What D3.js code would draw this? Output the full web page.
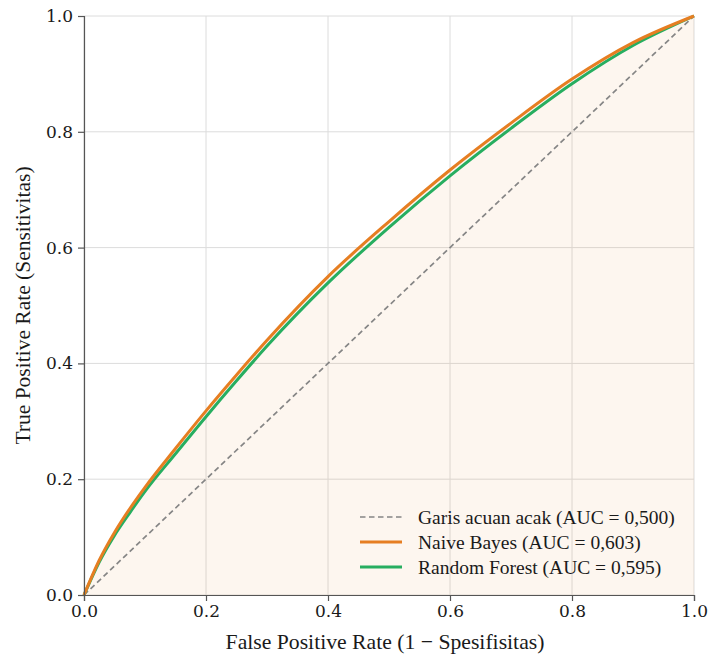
<!DOCTYPE html>
<html>
<head>
<meta charset="utf-8">
<script src="https://cdn.jsdelivr.net/npm/d3@7"></script>
<style>
  body { margin: 0; background: #fff; }
  svg { display: block; }
  .tick text { font-family: "DejaVu Serif", serif; font-size: 17px; fill: #1a1a1a; }
  .axis-label, .legend text { font-family: "Liberation Serif", serif; fill: #1a1a1a; }
</style>
</head>
<body>
<div id="chart"></div>
<script>
// ROC points
const fprPoints = [0, 0.025, 0.05, 0.075, 0.1, 0.15, 0.2, 0.25, 0.3, 0.4, 0.5, 0.6, 0.7, 0.8, 0.9, 1.0];
const naiveBayesTpr = [0, 0.06, 0.108, 0.149, 0.186, 0.253, 0.318, 0.38, 0.44, 0.55, 0.645, 0.734, 0.815, 0.891, 0.954, 1.0];
const randomForestTpr = [0, 0.057, 0.103, 0.142, 0.179, 0.244, 0.308, 0.37, 0.43, 0.539, 0.635, 0.724, 0.806, 0.883, 0.949, 1.0];
const diagonal = [0, 1];
const tickValues = [0, 0.2, 0.4, 0.6, 0.8, 1.0];
const legendLabels = [
  "Garis acuan acak (AUC = 0,500)",
  "Naive Bayes (AUC = 0,603)",
  "Random Forest (AUC = 0,595)",
];

const width = 709;
const height = 655;
const margin = { top: 16, right: 15, bottom: 60, left: 84 };

const svg = d3
  .select("#chart")
  .append("svg")
  .attr("width", width)
  .attr("height", height);

const x = d3.scaleLinear().domain([0, 1]).range([margin.left, width - margin.right]);
const y = d3.scaleLinear().domain([0, 1]).range([height - margin.bottom, margin.top]);

const nb = fprPoints.map((f, i) => [f, naiveBayesTpr[i]]);
const rf = fprPoints.map((f, i) => [f, randomForestTpr[i]]);

// grid
const grid = svg.append("g").attr("stroke", "#dcdcdc").attr("stroke-width", 1);
grid.selectAll(".gx").data(tickValues).join("line")
  .attr("x1", (d) => x(d)).attr("x2", (d) => x(d))
  .attr("y1", y(0)).attr("y2", y(1));
grid.selectAll(".gy").data(tickValues).join("line")
  .attr("x1", x(0)).attr("x2", x(1))
  .attr("y1", (d) => y(d)).attr("y2", (d) => y(d));

// fill under Naive Bayes
const area = d3.area()
  .x((d) => x(d[0]))
  .y0(y(0))
  .y1((d) => y(d[1]))
  .curve(d3.curveMonotoneX);
svg.append("path").datum(nb).attr("d", area).attr("fill", "#e67e22").attr("fill-opacity", 0.07);

const line = d3.line().x((d) => x(d[0])).y((d) => y(d[1])).curve(d3.curveMonotoneX);

svg.append("path")
  .datum(diagonal.map((d) => [d, d]))
  .attr("d", d3.line().x((d) => x(d[0])).y((d) => y(d[1])))
  .attr("fill", "none").attr("stroke", "#858585").attr("stroke-width", 1.7)
  .attr("stroke-dasharray", "5.5,3.5");

svg.append("path").datum(rf).attr("d", line)
  .attr("fill", "none").attr("stroke", "#27ae60").attr("stroke-width", 3);
svg.append("path").datum(nb).attr("d", line)
  .attr("fill", "none").attr("stroke", "#e67e22").attr("stroke-width", 3);

// axes
const fmt = d3.format(".1f");
const xAxis = svg.append("g")
  .attr("transform", `translate(0,${y(0)})`)
  .call(d3.axisBottom(x).tickValues(tickValues).tickFormat(fmt).tickSize(6).tickPadding(4));
const yAxis = svg.append("g")
  .attr("transform", `translate(${x(0)},0)`)
  .call(d3.axisLeft(y).tickValues(tickValues).tickFormat(fmt).tickSize(6).tickPadding(5));
[xAxis, yAxis].forEach((a) => {
  a.select(".domain").attr("stroke", "#555").attr("stroke-width", 1.2);
  a.selectAll(".tick line").attr("stroke", "#555").attr("stroke-width", 1.2);
});

svg.append("text").attr("class", "axis-label")
  .attr("x", 385).attr("y", 649)
  .attr("text-anchor", "middle").attr("font-size", 21.7)
  .text("False Positive Rate (1 − Spesifisitas)");
svg.append("text").attr("class", "axis-label")
  .attr("transform", `translate(30,${y(0.5)}) rotate(-90)`)
  .attr("text-anchor", "middle").attr("font-size", 21.5)
  .text("True Positive Rate (Sensitivitas)");

// legend
const legendStyles = [
  { stroke: "#858585", width: 1.7, dash: "5.5,3.5" },
  { stroke: "#e67e22", width: 3, dash: null },
  { stroke: "#27ae60", width: 3, dash: null },
];
const legend = svg.append("g").attr("class", "legend");
const rows = legend.selectAll("g").data(legendLabels).join("g")
  .attr("transform", (d, i) => `translate(360,${517 + i * 25})`);
rows.append("line")
  .attr("x1", 0).attr("x2", 42)
  .attr("stroke", (d, i) => legendStyles[i].stroke)
  .attr("stroke-width", (d, i) => legendStyles[i].width)
  .attr("stroke-dasharray", (d, i) => legendStyles[i].dash);
rows.append("text")
  .attr("x", 58).attr("dy", "0.35em").attr("font-size", 19.5)
  .text((d) => d);
</script>
</body>
</html>
